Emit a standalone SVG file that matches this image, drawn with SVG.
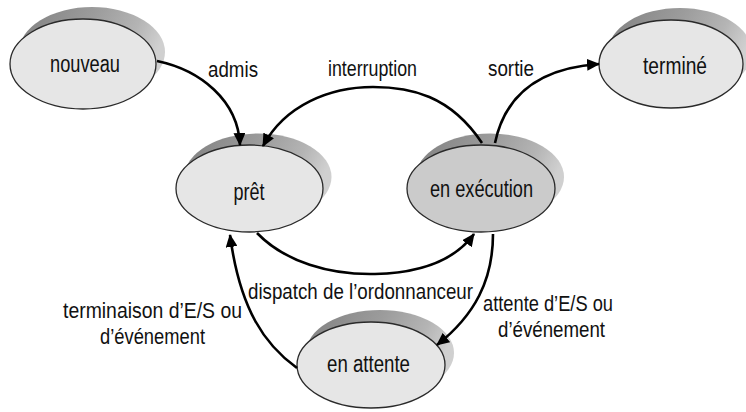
<svg xmlns="http://www.w3.org/2000/svg" width="746" height="412" viewBox="0 0 746 412">
<style>
  .node { stroke: #2a2a2a; stroke-width: 1.3; fill: #e6e6e6; }
  .run { fill: #cbcbcb; }
  .shadow { fill: url(#sh); stroke: none; }
  .lbl { font-family: "Liberation Sans", Arial, sans-serif; font-size: 22px; fill: #111; }
  .ntxt { font-family: "Liberation Sans", Arial, sans-serif; font-size: 23px; fill: #111; text-anchor: middle; }
  .edge { fill: none; stroke: #000; stroke-width: 2.6; marker-end: url(#ah); }
</style>
<defs>
  <linearGradient id="sh" x1="0" y1="0" x2="1" y2="0.3">
    <stop offset="0" stop-color="#808080"/>
    <stop offset="0.5" stop-color="#9c9c9c"/>
    <stop offset="0.8" stop-color="#b4b4b4"/>
    <stop offset="1" stop-color="#d0d0d0"/>
  </linearGradient>
  <marker id="ah" markerUnits="userSpaceOnUse" markerWidth="14" markerHeight="12" refX="12" refY="6" orient="auto">
    <path d="M0,0 L13,6 L0,12 Z" fill="#000"/>
  </marker>
</defs>
<rect width="746" height="412" fill="#ffffff"/>

<g id="nouveau">
  <ellipse class="shadow" cx="92" cy="52" rx="73" ry="45"/>
  <ellipse class="node" cx="83" cy="64" rx="73" ry="45"/>
  <text class="ntxt" x="85" y="72" textLength="70" lengthAdjust="spacingAndGlyphs">nouveau</text>
</g>
<g id="termine">
  <ellipse class="shadow" cx="680" cy="52" rx="72" ry="44"/>
  <ellipse class="node" cx="671" cy="64" rx="72" ry="44"/>
  <text class="ntxt" x="675" y="74" textLength="64" lengthAdjust="spacingAndGlyphs">terminé</text>
</g>
<g id="pret">
  <ellipse class="shadow" cx="258" cy="177" rx="73.5" ry="43.5"/>
  <ellipse class="node" cx="249.5" cy="188.5" rx="73.5" ry="43.5"/>
  <text class="ntxt" x="249" y="200" textLength="31" lengthAdjust="spacingAndGlyphs">prêt</text>
</g>
<g id="execution">
  <ellipse class="shadow" cx="490" cy="177" rx="74" ry="43.5"/>
  <ellipse class="node run" cx="481" cy="188.5" rx="74" ry="43.5"/>
  <text class="ntxt" x="481.5" y="197" textLength="103" lengthAdjust="spacingAndGlyphs">en exécution</text>
</g>
<g id="attente">
  <ellipse class="shadow" cx="380" cy="353" rx="74" ry="43"/>
  <ellipse class="node" cx="371" cy="365" rx="74" ry="43"/>
  <text class="ntxt" x="368.5" y="372" textLength="83" lengthAdjust="spacingAndGlyphs">en attente</text>
</g>

<g id="connectors">
  <path class="edge" d="M157,61 C200,70 238,100 240,145"/>
  <path class="edge" d="M482,143 C450,95 410,87 373,87 C330,87 285,105 263,146"/>
  <path class="edge" d="M495,143 C505,95 540,68 599,64"/>
  <path class="edge" d="M257,233 C285,262 330,275 375,274 C420,273 455,260 474,234"/>
  <path class="edge" d="M493,234 C493,280 475,315 437,345"/>
  <path class="edge" d="M297,368 C265,345 240,310 230,235"/>
</g>

<g id="labels">
  <text class="lbl" x="208" y="77" textLength="50" lengthAdjust="spacingAndGlyphs">admis</text>
  <text class="lbl" x="328" y="76" textLength="89" lengthAdjust="spacingAndGlyphs">interruption</text>
  <text class="lbl" x="488" y="76" textLength="46" lengthAdjust="spacingAndGlyphs">sortie</text>
  <text class="lbl" x="248" y="299" textLength="225" lengthAdjust="spacingAndGlyphs">dispatch de l’ordonnanceur</text>
  <text class="lbl" x="63" y="318" textLength="179" lengthAdjust="spacingAndGlyphs">terminaison d’E/S  ou</text>
  <text class="lbl" x="100" y="344" textLength="105" lengthAdjust="spacingAndGlyphs">d’événement</text>
  <text class="lbl" x="483" y="311" textLength="130" lengthAdjust="spacingAndGlyphs">attente d’E/S ou</text>
  <text class="lbl" x="498" y="337" textLength="107" lengthAdjust="spacingAndGlyphs">d’événement</text>
</g>
</svg>
